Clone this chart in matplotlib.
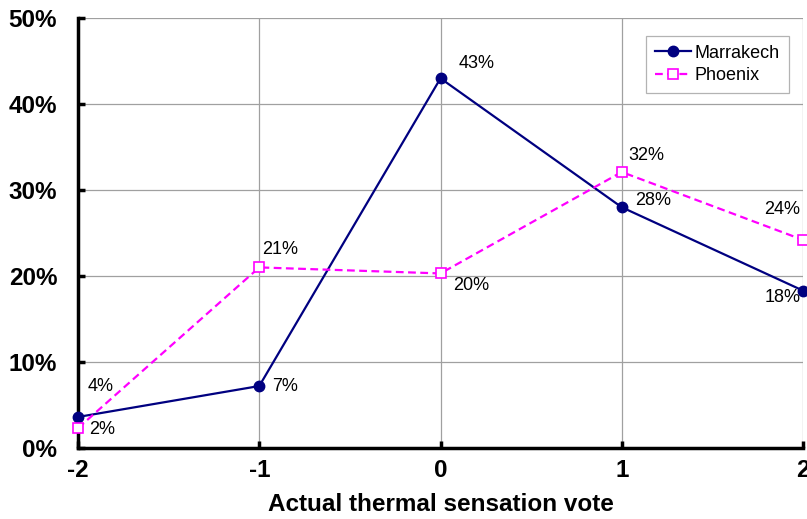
import matplotlib.pyplot as plt
from matplotlib.ticker import FuncFormatter

plt.rcParams['font.family'] = ['Liberation Sans', 'DejaVu Sans']
plt.rcParams['axes.unicode_minus'] = False

votes = [-2, -1, 0, 1, 2]
marrakech = [3.6, 7.2, 43.0, 28.0, 18.3]
phoenix = [2.3, 21.0, 20.3, 32.1, 24.2]
marrakech_lbl = ['4%', '7%', '43%', '28%', '18%']
phoenix_lbl = ['2%', '21%', '20%', '32%', '24%']

fig = plt.figure(figsize=(8.07, 5.19), dpi=100)
ax = fig.add_axes([0.0967, 0.137, 0.8983, 0.828])

ax.plot(votes, marrakech, '-o', color='#000080', lw=1.6, ms=7.5,
        label='Marrakech', clip_on=False, zorder=3)
ax.plot(votes, phoenix, '--s', color='#FF00FF', lw=1.6, ms=7.5,
        mfc='white', mec='#FF00FF', mew=1.2, dashes=(3.5, 2),
        label='Phoenix', clip_on=False, zorder=3)

# label offsets in points (dx, dy, ha)
m_off = [(7, 22, 'left'), (9, 0, 'left'), (13, 11, 'left'), (10, 5, 'left'), (-2, -5, 'right')]
p_off = [(8, -1, 'left'), (2, 13, 'left'), (9, -9, 'left'), (5, 12, 'left'), (-2, 22, 'right')]
for x, y, t, (dx, dy, ha) in zip(votes, marrakech, marrakech_lbl, m_off):
    ax.annotate(t, (x, y), xytext=(dx, dy), textcoords='offset points',
                ha=ha, va='center', fontsize=13, zorder=4)
for x, y, t, (dx, dy, ha) in zip(votes, phoenix, phoenix_lbl, p_off):
    ax.annotate(t, (x, y), xytext=(dx, dy), textcoords='offset points',
                ha=ha, va='center', fontsize=13, zorder=4)

ax.set_xlim(-2, 2)
ax.set_ylim(0, 50)
ax.set_xticks(votes)
ax.set_yticks(range(0, 51, 10))
ax.yaxis.set_major_formatter(FuncFormatter(lambda v, p: '%d%%' % v))
ax.grid(True, color='#A0A0A0', lw=0.9)
ax.set_axisbelow(True)
for s in ['top', 'right']:
    ax.spines[s].set_visible(False)
for s in ['left', 'bottom']:
    ax.spines[s].set_linewidth(2.5)
ax.tick_params(direction='in', length=5, width=2.5, labelsize=17.5)
ax.tick_params(axis='y', pad=15)
ax.tick_params(axis='x', pad=8)
for lab in ax.get_xticklabels() + ax.get_yticklabels():
    lab.set_fontweight('bold')
ax.set_xlabel('Actual thermal sensation vote', fontsize=17.5, fontweight='bold', labelpad=8)

leg = ax.legend(loc='upper right', bbox_to_anchor=(0.993, 0.98), fontsize=13,
                frameon=True, fancybox=False, edgecolor='#A0A0A0',
                handlelength=2.0, handletextpad=0.2, borderpad=0.5,
                labelspacing=0.3)
leg.get_frame().set_linewidth(0.9)

fig.savefig('out.png', dpi=100)
